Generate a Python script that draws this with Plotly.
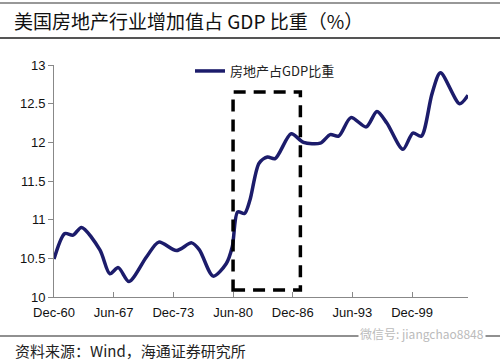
import plotly.graph_objects as go

dates = ["1960-12", "1962-02", "1963-01", "1963-12", "1965-12", "1967-01", "1967-12",
         "1969-02", "1971-01", "1972-05", "1974-04", "1975-12", "1976-10", "1978-04",
         "1979-09", "1980-05", "1980-12", "1981-09", "1982-04", "1983-04", "1984-03",
         "1985-01", "1986-10", "1988-02", "1989-12", "1991-01", "1991-12", "1993-04",
         "1994-12", "1996-02", "1997-03", "1998-12", "2000-01", "2000-12", "2002-02",
         "2003-01", "2005-02", "2006-01"]
share = [10.49, 10.82, 10.80, 10.90, 10.61, 10.30, 10.38,
         10.20, 10.52, 10.71, 10.60, 10.70, 10.61, 10.27,
         10.43, 10.65, 11.10, 11.08, 11.25, 11.73, 11.81,
         11.79, 12.11, 12.00, 11.99, 12.10, 12.08, 12.32,
         12.20, 12.40, 12.25, 11.91, 12.12, 12.08, 12.63,
         12.90, 12.50, 12.61]

tick_vals = ["1960-12-01", "1967-06-01", "1973-12-01", "1980-06-01",
             "1986-12-01", "1993-06-01", "1999-12-01"]
tick_text = ["Dec-60", "Jun-67", "Dec-73", "Jun-80", "Dec-86", "Jun-93", "Dec-99"]

box_x = ["1980-06-01", "1987-10-01"]
box_y = [10.09, 12.65]

title = "美国房地产行业增加值占 GDP 比重（%）"
series_name = "房地产占GDP比重"
source = "资料来源：Wind，海通证券研究所"
watermark = "微信号: jiangchao8848"

L, R, T, B = 54, 32, 65, 65
W, H = 500, 362
pw, ph = W - L - R, H - T - B

def px(x):
    return (x - L) / pw

def py(y):
    return (H - B - y) / ph

fig = go.Figure()
fig.add_trace(go.Scatter(
    x=dates, y=share, mode="lines", name=series_name,
    line=dict(color="#1c1c6b", width=3.5, shape="spline", smoothing=0.8),
))

fig.add_shape(type="rect", xref="x", yref="y",
              x0=box_x[0], x1=box_x[1], y0=box_y[0], y1=box_y[1],
              line=dict(color="black", width=3.5, dash="12px,8px"))

# frame lines
for yy, col, wd in [(3, "#333333", 1.2), (38, "#555555", 2), (336, "#222222", 1.2)]:
    fig.add_shape(type="line", xref="paper", yref="paper",
                  x0=px(0), x1=px(W), y0=py(yy), y1=py(yy),
                  line=dict(color=col, width=wd))

fig.add_annotation(xref="paper", yref="paper", x=px(12), y=py(21),
                   xanchor="left", yanchor="middle", showarrow=False,
                   text=title,
                   font=dict(family="Noto Sans CJK SC", size=19, color="#111111"))
fig.add_annotation(xref="paper", yref="paper", x=px(13), y=py(350),
                   xanchor="left", yanchor="middle", showarrow=False,
                   text=source,
                   font=dict(family="Noto Sans CJK SC", size=15, color="#222222"))
fig.add_annotation(xref="paper", yref="paper", x=px(486), y=py(333),
                   xanchor="right", yanchor="middle", showarrow=False,
                   text=watermark, bgcolor="white",
                   font=dict(family="Noto Sans CJK SC", size=12, color="#bbbbbb"))

fig.update_layout(
    width=W, height=H,
    margin=dict(l=L, r=R, t=T, b=B, autoexpand=False),
    paper_bgcolor="white", plot_bgcolor="white",
    showlegend=True,
    legend=dict(x=px(190), y=py(71),
                xanchor="left", yanchor="middle", bgcolor="rgba(0,0,0,0)",
                font=dict(family="Noto Sans CJK SC", size=13, color="#222222"),
                itemwidth=30),
    font=dict(family="Liberation Sans, Arial", size=13, color="#111111"),
)
fig.update_xaxes(type="date", range=["1960-12-01", "2006-01-01"],
                 tickvals=tick_vals, ticktext=tick_text,
                 ticks="inside", ticklen=5, tickcolor="#888888",
                 showline=True, linecolor="#888888", linewidth=1,
                 showgrid=False, zeroline=False, ticklabelstandoff=3,
                 tickfont=dict(size=13, color="#111111"))
fig.update_yaxes(range=[10, 13], dtick=0.5,
                 ticks="outside", ticklen=5, tickcolor="#888888",
                 showline=True, linecolor="#888888", linewidth=1,
                 showgrid=False, zeroline=False,
                 tickfont=dict(size=13, color="#111111"))

fig.write_html("out.html", post_script="document.body.style.margin='0';",
               config={"displayModeBar": False})
